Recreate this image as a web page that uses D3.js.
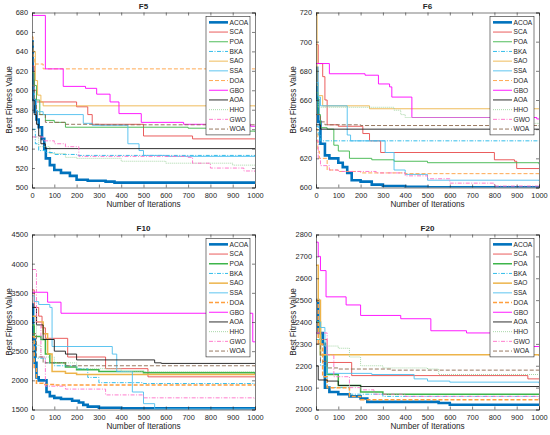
<!DOCTYPE html>
<html>
<head>
<meta charset="utf-8">
<script src="https://cdn.jsdelivr.net/npm/d3@7"></script>
<style>
  body { margin: 0; background: #fff; }
  text { font-family: "Liberation Sans", Arial, Helvetica, sans-serif; fill: #262626; }
</style>
</head>
<body>
<script>
const W = 550, H = 435;

const algos = ["ACOA", "SCA", "POA", "BKA", "SAO", "SSA", "DOA", "GBO", "AOA", "HHO", "GWO", "WOA"];
const colors = ["#0072BD", "#E84B4B", "#3DB54A", "#1CB5E8", "#EDB44A", "#4DBEEE", "#FF9F3F", "#FF00FF", "#1a1a1a", "#9FD39F", "#FF6EC7", "#8C6A50"];
const dashes = [null, null, null, "4,1.5,1,1.5", null, null, "4,2", null, null, "1,1", "4,1.5,1,1.5", "4,2"];
const xTicks = d3.range(0, 1001, 100);

// convergence curves, [iteration, best fitness] breakpoints per algorithm (order = algos)
const f5Curves = [
  [[0,650],[3,610],[6,590],[12,578],[20,570],[30,562],[45,550],[55,540],[62,530],[80,523],[100,518],[130,515],[170,512],[200,508],[250,507],[330,506],[370,505],[1000,505]],
  [[0,625],[10,600],[20,588],[200,583],[250,575],[270,565],[500,553],[720,550],[1000,550]],
  [[0,618],[10,605],[20,590],[35,575],[60,569],[100,567],[150,562],[700,561],[800,560],[900,558],[1000,557]],
  [[0,560],[15,545],[30,538],[60,536],[100,534],[200,533],[1000,532]],
  [[0,640],[15,610],[25,595],[40,588],[50,584],[1000,583.5]],
  [[0,605],[10,590],[20,578],[50,575],[230,566],[270,564],[430,545],[480,538],[500,533],[600,532],[1000,532]],
  [[0,655],[5,635],[10,627],[50,622],[1000,622]],
  [[0,677],[60,622],[140,604],[240,602],[290,596],[350,588],[390,576],[490,567],[680,565],[980,563],[1000,563]],
  [[0,590],[10,575],[20,565],[30,553],[40,545],[60,540],[1000,540]],
  [[0,552],[30,542],[80,535],[150,531],[200,530],[400,527],[600,525],[900,523],[1000,523]],
  [[0,552],[50,548],[100,545],[150,542],[210,532],[700,531],[720,525],[800,520],[950,517],[1000,516]],
  [[0,605],[10,585],[20,575],[60,567],[150,565],[300,564.5],[1000,564]]
];
const f6Curves = [
  [[0,682],[5,660],[10,645],[20,630],[40,622],[60,620],[100,617],[120,614],[140,610],[160,605],[200,604],[250,602],[300,601],[400,600.5],[500,600.2],[1000,600]],
  [[0,698],[10,685],[30,676],[40,660],[50,643],[100,642],[210,637],[240,632],[290,624],[800,619],[890,618],[900,613],[1000,613]],
  [[0,665],[10,650],[20,641],[50,640],[80,629],[100,625],[150,620],[250,619],[350,618],[500,617],[1000,616]],
  [[0,642],[10,636],[20,632],[1000,632]],
  [[0,720],[5,670],[10,663],[30,656],[240,654],[1000,654]],
  [[0,672],[10,662],[20,656],[140,636],[155,632],[310,624],[350,612],[400,609],[500,605],[1000,604.5]],
  [[0,640],[8,625],[15,620],[50,612],[100,611],[200,610],[400,609.5],[1000,609]],
  [[0,685],[60,678],[220,677],[280,671],[330,669],[340,662],[430,648],[990,647],[1000,647]],
  [[0,643],[20,640],[1000,640]],
  [[0,660],[10,655],[350,653],[380,650],[400,648],[900,646],[950,644],[1000,642]],
  [[0,632],[10,620],[20,615],[60,612],[100,611],[270,610],[400,608],[500,606],[600,603],[800,601],[1000,600.5]],
  [[0,650],[20,645],[40,643],[200,642.5],[1000,642]]
];
const f10Curves = [
  [[0,3300],[5,2700],[12,2300],[20,2050],[30,2000],[65,1800],[80,1730],[100,1700],[130,1680],[180,1650],[210,1620],[230,1580],[250,1550],[300,1530],[400,1520],[1000,1520]],
  [[0,3550],[10,3250],[30,3100],[45,2900],[60,2720],[160,2400],[330,2200],[520,2060],[1000,2060]],
  [[0,2950],[10,2750],[40,2700],[60,2450],[80,2300],[150,2230],[200,2180],[300,2150],[500,2130],[1000,2100]],
  [[0,2650],[20,2380],[60,2300],[100,2250],[200,2200],[250,2050],[300,1960],[500,1945],[1000,1930]],
  [[0,3100],[20,3000],[50,2800],[70,2450],[90,2150],[150,2120],[200,2100],[1000,2100]],
  [[0,3450],[10,3350],[30,3300],[80,3250],[90,2580],[360,2450],[380,2150],[450,1800],[500,1600],[550,1510],[1000,1510]],
  [[0,2750],[10,2200],[20,1950],[50,1930],[100,1920],[1000,1920]],
  [[0,3510],[70,3340],[130,3150],[990,2660],[1000,2660]],
  [[0,3250],[20,2950],[50,2700],[100,2500],[150,2450],[200,2350],[550,2300],[580,2290],[1000,2290]],
  [[0,2950],[20,2600],[40,2400],[100,2300],[200,2200],[400,2150],[1000,2140]],
  [[0,3900],[20,3000],[40,2400],[60,1900],[150,1850],[330,1750],[500,1700],[1000,1680]],
  [[0,2800],[20,2400],[50,2300],[150,2250],[1000,2240]]
];
const f20Curves = [
  [[0,2500],[10,2350],[30,2300],[40,2100],[60,2080],[100,2070],[150,2060],[200,2050],[230,2035],[550,2030],[600,2022],[1000,2020]],
  [[0,2350],[20,2320],[50,2215],[160,2155],[950,2140],[1000,2140]],
  [[0,2400],[20,2250],[50,2160],[100,2110],[200,2080],[300,2070],[1000,2068]],
  [[0,2320],[20,2200],[50,2100],[150,2070],[300,2060],[1000,2058]],
  [[0,2660],[10,2500],[20,2250],[500,2250],[1000,2245]],
  [[0,2400],[20,2375],[40,2290],[50,2165],[250,2160],[440,2140],[500,2130],[600,2125],[1000,2120]],
  [[0,2500],[10,2300],[30,2150],[50,2100],[150,2060],[200,2045],[1000,2042]],
  [[0,2765],[10,2700],[20,2635],[45,2515],[135,2478],[200,2430],[380,2415],[515,2360],[675,2350],[950,2288],[1000,2288]],
  [[0,2200],[10,2135],[50,2130],[100,2110],[200,2105],[1000,2103]],
  [[0,2320],[40,2290],[100,2280],[150,2240],[200,2200],[300,2190],[500,2185],[550,2160],[1000,2160]],
  [[0,2350],[50,2250],[80,2150],[150,2100],[200,2090],[260,2070],[400,2060],[1000,2048]],
  [[0,2300],[20,2220],[50,2190],[100,2185],[340,2180],[1000,2180]]
];

const f5Y = [500, 680], f5Ticks = d3.range(500, 681, 20);
const f6Y = [600, 720], f6Ticks = d3.range(600, 721, 20);
const f10Y = [1500, 4500], f10Ticks = d3.range(1500, 4501, 500);
const f20Y = [2000, 2800], f20Ticks = d3.range(2000, 2801, 100);

const panels = [
  { title: "F5", curves: f5Curves, yd: f5Y, yt: f5Ticks, x0: 32, y0: 12.5, thick: false },
  { title: "F6", curves: f6Curves, yd: f6Y, yt: f6Ticks, x0: 316, y0: 12.5, thick: false },
  { title: "F10", curves: f10Curves, yd: f10Y, yt: f10Ticks, x0: 32, y0: 234.5, thick: true },
  { title: "F20", curves: f20Curves, yd: f20Y, yt: f20Ticks, x0: 316, y0: 234.5, thick: true }
];
const pw = 223, ph = 175;
const fmt = d3.format("d");

const svg = d3.select("body").append("svg").attr("width", W).attr("height", H);

panels.forEach((p, pi) => {
  const g = svg.append("g").attr("transform", `translate(${p.x0},${p.y0})`);
  const x = d3.scaleLinear().domain([0, 1000]).range([0, pw]);
  const y = d3.scaleLinear().domain(p.yd).range([ph, 0]);

  g.append("rect").attr("width", pw).attr("height", ph).attr("fill", "#fff");

  g.append("clipPath").attr("id", "clip" + pi)
    .append("rect").attr("width", pw).attr("height", ph);

  const line = d3.line().x(d => x(d[0])).y(d => y(d[1])).curve(d3.curveStepAfter);
  const lines = g.append("g").attr("clip-path", `url(#clip${pi})`);
  p.curves.forEach((c, i) => {
    let sw = i === 0 ? 2.6 : 0.9;
    if (p.thick && (i === 2 || i === 4 || i === 6)) sw = 1.5;
    lines.append("path")
      .attr("d", line(c))
      .attr("fill", "none")
      .attr("stroke", colors[i])
      .attr("stroke-width", sw)
      .attr("stroke-dasharray", dashes[i]);
  });

  // axes, MATLAB style: ticks inside, box on
  const ax = d3.axisBottom(x).tickValues(xTicks).tickSize(-3).tickPadding(4).tickFormat(fmt);
  const ay = d3.axisLeft(y).tickValues(p.yt).tickSize(-3).tickPadding(4).tickFormat(fmt);
  const gx = g.append("g").attr("transform", `translate(0,${ph})`).call(ax);
  const gy = g.append("g").call(ay);
  g.append("g").call(d3.axisTop(x).tickValues(xTicks).tickSize(-3).tickFormat(""));
  g.append("g").attr("transform", `translate(${pw},0)`).call(d3.axisRight(y).tickValues(p.yt).tickSize(-3).tickFormat(""));
  g.selectAll(".domain").attr("stroke", "#262626").attr("stroke-width", 0.6);
  g.selectAll(".tick line").attr("stroke", "#262626").attr("stroke-width", 0.6);
  g.selectAll(".tick text").attr("font-size", 7.4).attr("fill", "#262626")
    .style("font-family", '"Liberation Sans", Arial, sans-serif');
  gx.selectAll(".tick text").attr("dy", "0.9em");

  g.append("text").attr("x", pw / 2).attr("y", -4).attr("text-anchor", "middle")
    .attr("font-size", 8).attr("font-weight", "bold").text(p.title);
  g.append("text").attr("x", pw / 2).attr("y", ph + 19.5).attr("text-anchor", "middle")
    .attr("font-size", 8.2).text("Number of Iterations");
  g.append("text").attr("transform", `translate(-20,${ph / 2}) rotate(-90)`)
    .attr("text-anchor", "middle").attr("font-size", 8.2).text("Best Fitness Value");

  // legend
  const lw = 44, rh = 9.7;
  const lg = g.append("g").attr("transform", `translate(${pw - lw - 5},4)`);
  lg.append("rect").attr("width", lw).attr("height", rh * algos.length + 2)
    .attr("fill", "#fff").attr("stroke", "#262626").attr("stroke-width", 0.6);
  algos.forEach((a, i) => {
    const yy = 1 + rh * i + rh / 2;
    let sw = i === 0 ? 2.6 : 0.9;
    if (p.thick && (i === 2 || i === 4 || i === 6)) sw = 1.5;
    lg.append("line").attr("x1", 3).attr("x2", 22).attr("y1", yy).attr("y2", yy)
      .attr("stroke", colors[i]).attr("stroke-width", sw).attr("stroke-dasharray", dashes[i]);
    lg.append("text").attr("x", 23.5).attr("y", yy).attr("dy", "0.35em")
      .attr("font-size", 6.6).text(a);
  });
});
</script>
</body>
</html>
